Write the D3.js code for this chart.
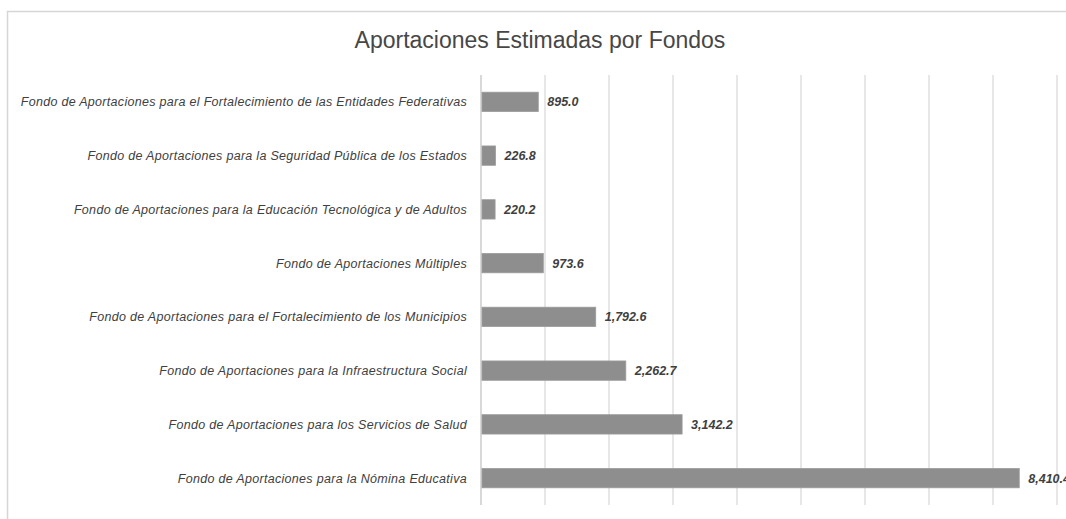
<!DOCTYPE html>
<html>
<head>
<meta charset="utf-8">
<script src="https://cdnjs.cloudflare.com/ajax/libs/d3/7.8.5/d3.min.js"></script>
<style>
  body { margin: 0; background: #fff; }
  svg { display: block; font-family: "Liberation Sans", Arial, sans-serif; }
</style>
</head>
<body>
<div id="chart"></div>
<script>
var categories = [
  "Fondo de Aportaciones para el Fortalecimiento de las Entidades Federativas",
  "Fondo de Aportaciones para la Seguridad Pública de los Estados",
  "Fondo de Aportaciones para la Educación Tecnológica y de Adultos",
  "Fondo de Aportaciones Múltiples",
  "Fondo de Aportaciones para el Fortalecimiento de los Municipios",
  "Fondo de Aportaciones para la Infraestructura Social",
  "Fondo de Aportaciones para los Servicios de Salud",
  "Fondo de Aportaciones para la Nómina Educativa"
]
var values = [895.0, 226.8, 220.2, 973.6, 1792.6, 2262.7, 3142.2, 8410.4]
var ticks = [0, 1000, 2000, 3000, 4000, 5000, 6000, 7000, 8000, 9000, 10000]
var title = "Aportaciones Estimadas por Fondos"

var width = 1066,
    height = 519

var svg = d3.select("#chart").append("svg")
    .attr("width", width)
    .attr("height", height)

// chart frame (runs off the right and bottom of the scan)
svg.append("rect")
    .attr("x", 7.5)
    .attr("y", 11.5)
    .attr("width", 1140)
    .attr("height", 540)
    .style("fill", "none")
    .style("stroke", "#d6d6d6")
    .style("stroke-width", 1.5)

svg.append("text")
    .attr("x", 540)
    .attr("y", 48)
    .attr("text-anchor", "middle")
    .style("font-size", "23px")
    .style("fill", "#474747")
    .text(title)

var x = d3.scaleLinear()
    .domain([0, 10000])
    .range([481, 1121])

var y = d3.scaleBand()
    .domain(categories)
    .range([75, 505])
    .paddingInner(0.64)
    .paddingOuter(0.32)

// vertical gridlines
svg.append("g")
  .selectAll("line")
  .data(ticks).enter()
    .append("line")
      .attr("x1", function(d) { return x(d) })
      .attr("x2", function(d) { return x(d) })
      .attr("y1", 75)
      .attr("y2", 505)
      .style("stroke", function(d) { return d === 0 ? "#c4c4c4" : "#dadada" })
      .style("stroke-width", 1.3)

svg.append("g")
  .selectAll("rect")
  .data(values).enter()
    .append("rect")
      .attr("x", x(0) + 1)
      .attr("y", function(d, i) { return y(categories[i]) })
      .attr("width", function(d) { return x(d) - x(0) - 1 })
      .attr("height", y.bandwidth())
      .style("fill", "#8e8e8e")
      .style("stroke", "#9c9c9c")
      .style("stroke-width", 0.8)

var fmt = d3.format(",.1f")

svg.append("g")
  .selectAll("text")
  .data(values).enter()
    .append("text")
      .attr("x", function(d) { return x(d) + 9 })
      .attr("y", function(d, i) { return y(categories[i]) + y.bandwidth() / 2 })
      .attr("dy", "0.36em")
      .style("font-size", "12.5px")
      .style("font-weight", "bold")
      .style("font-style", "italic")
      .style("fill", "#3f3f3f")
      .text(function(d) { return fmt(d) })

// category labels
svg.append("g")
  .selectAll("text")
  .data(categories).enter()
    .append("text")
      .attr("x", 467)
      .attr("y", function(d) { return y(d) + y.bandwidth() / 2 })
      .attr("dy", "0.36em")
      .attr("text-anchor", "end")
      .style("font-size", "12.5px")
      .style("letter-spacing", "0.3px")
      .style("font-style", "italic")
      .style("fill", "#404040")
      .text(function(d) { return d })
</script>
</body>
</html>
